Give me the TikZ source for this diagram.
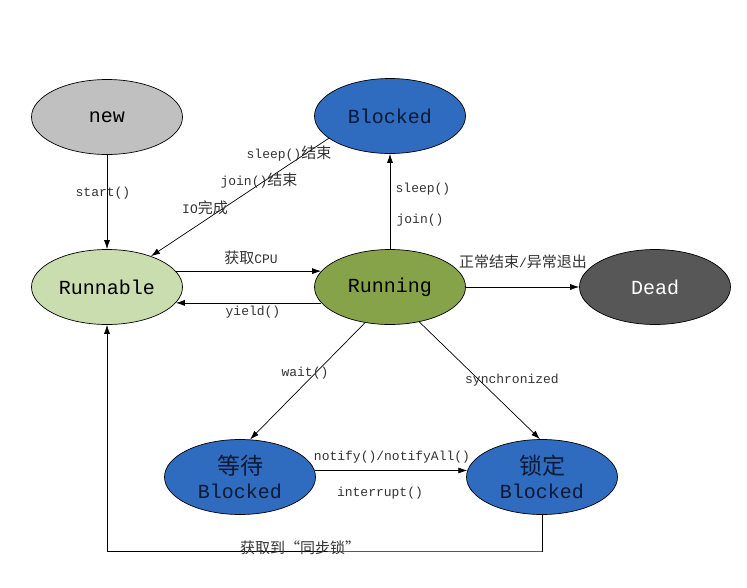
\documentclass[tikz,border=0pt]{standalone}
\usepackage{fontspec}
\setmainfont{Liberation Mono}
\newfontfamily\cjkf{Noto Sans CJK SC}
\newcommand{\cjk}[1]{{\cjkf\fontsize{15}{16}\selectfont #1}}
\newcommand{\cjkbig}[1]{{\cjkf\fontsize{23}{24}\selectfont #1}}
\usetikzlibrary{shapes.geometric,arrows.meta}
\definecolor{cgray}{HTML}{C0C0C0}
\definecolor{cblue}{HTML}{2F6BBE}
\definecolor{clgreen}{HTML}{CADDAE}
\definecolor{cgreen}{HTML}{86A34A}
\definecolor{cdark}{HTML}{575757}
\definecolor{cnavy}{HTML}{0C1A36}
\definecolor{clabel}{HTML}{333333}
\tikzset{
  state/.style={ellipse, draw=black, line width=0.7pt, minimum width=151pt, minimum height=75pt, inner sep=0pt, font=\fontsize{20}{22}\selectfont, align=center},
  conn/.style={line width=0.7pt, -{Latex[length=9pt,width=6pt]}},
  lbl/.style={font=\fontsize{13}{14}\selectfont, text=clabel, inner sep=1pt}
}
\begin{document}
\begin{tikzpicture}[x=1pt,y=-1pt]
\useasboundingbox (0,0) rectangle (747,587);
\node[state, fill=cgray] (new) at (107,117) {new};
\node[state, fill=cblue, text=cnavy] (blk) at (390,116) {Blocked};
\node[state, fill=clgreen] (run) at (107,287) {Runnable};
\node[state, fill=cgreen] (ing) at (390,287) {Running};
\node[state, fill=cdark, text=white] (dead) at (655,287) {Dead};
\node[state, fill=cblue, text=cnavy, font=\fontsize{20}{24}\selectfont] (wait) at (240,477) {\cjkbig{等待}\\Blocked};
\node[state, fill=cblue, text=cnavy, font=\fontsize{20}{24}\selectfont] (lock) at (542,477) {\cjkbig{锁定}\\Blocked};
\coordinate (c1) at (543,551);
\coordinate (c2) at (107,551);

\draw[conn] (new) -- (run);
\node[lbl] at (103,193) {start()};

\draw[conn] (blk.{200}) -- (run.{35});
\node[lbl] at (289,154) {sleep()\cjk{结束}};
\node[lbl] at (259,181) {join()\cjk{结束}};
\node[lbl] at (205,208) {IO\cjk{完成}};

\draw[conn] (ing) -- (blk);
\node[lbl] at (423,189) {sleep()};
\node[lbl] at (420,220) {join()};

\draw[conn] (run.{13}) -- (ing.{167});
\node[lbl] at (251,258) {\cjk{获取}CPU};
\draw[conn] (ing.{193}) -- (run.{-13});
\node[lbl] at (253,312) {yield()};

\draw[conn] (ing) -- (dead);
\node[lbl] at (523,262) {\cjk{正常结束}/\cjk{异常退出}};

\draw[conn] (ing.{-125}) -- (wait.{75});
\node[lbl] at (305,373) {wait()};
\draw[conn] (ing.{-50}) -- (lock.{93});
\node[lbl] at (512,380) {synchronized};

\draw[conn] (wait.{5}) -- (lock.{175});
\node[lbl] at (392,457) {notify()/notifyAll()};
\node[lbl] at (380,493) {interrupt()};

\draw[conn] (lock.south) |- (c1) -- (c2) -- (run.south);
\node[lbl] at (300,548) {\cjk{获取到“同步锁”}};
\end{tikzpicture}
\end{document}
